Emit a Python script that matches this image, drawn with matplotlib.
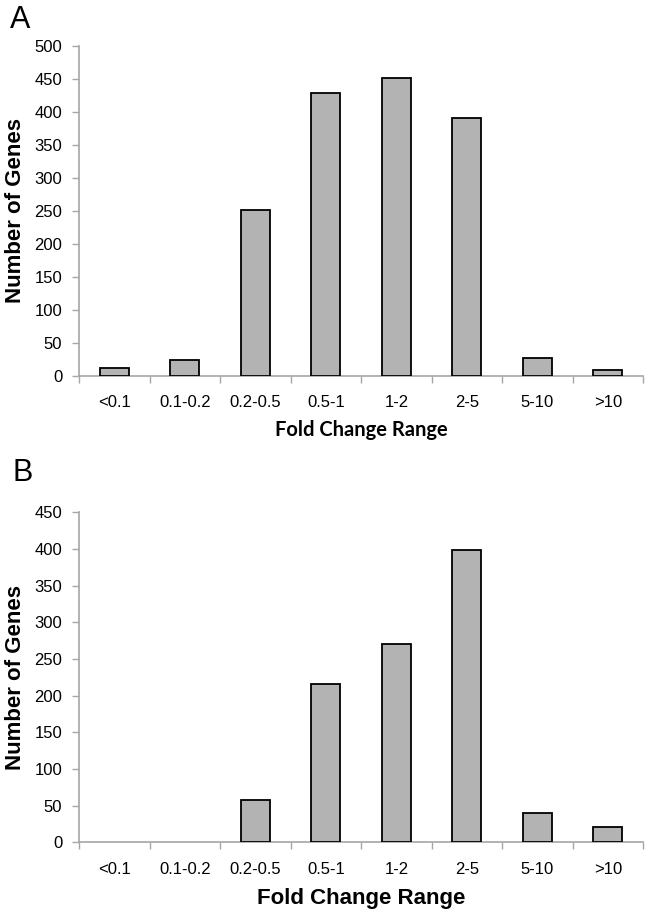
import numpy as np
import matplotlib
matplotlib.use('Agg')
from matplotlib import pyplot as plt

plt.rcParams['font.family'] = ['Liberation Sans', 'DejaVu Sans']

categories = ['<0.1', '0.1-0.2', '0.2-0.5', '0.5-1', '1-2', '2-5', '5-10', '>10']
genes_a = [12, 24, 251, 428, 451, 390, 28, 9]
genes_b = [0, 0, 58, 216, 271, 398, 40, 21]
yticks_a = list(range(0, 501, 50))
yticks_b = list(range(0, 451, 50))

fig = plt.figure(figsize=(6.53, 9.16), dpi=100)

axcol = '#a6a6a6'


def panel(rect, vals, yticks, letter, letter_xy, xlab_font, xlab_size, xlab_y):
    ax = fig.add_axes(rect)
    x = np.arange(len(categories))
    # empty bins get no outline
    lw = [1.3 if v > 0 else 0 for v in vals]
    ax.bar(x, vals, width=0.41, color='#b3b3b3', edgecolor='black', linewidth=lw, zorder=3)
    ax.set_xlim(-0.5, len(categories) - 0.5)
    ax.set_ylim(yticks[0], yticks[-1])
    ax.set_yticks(yticks)
    ax.set_xticks(x)
    ax.set_xticklabels(categories)
    # tick marks between categories
    ax.set_xticks(np.arange(len(categories) + 1) - 0.5, minor=True)
    ax.tick_params(axis='x', which='major', length=0, pad=14, labelsize=12)
    ax.tick_params(axis='x', which='minor', length=5, color=axcol, width=1)
    ax.tick_params(axis='y', length=5, color=axcol, width=1, labelsize=12, pad=7)
    for s in ['top', 'right']:
        ax.spines[s].set_visible(False)
    for s in ['left', 'bottom']:
        ax.spines[s].set_color(axcol)
        ax.spines[s].set_linewidth(1.2)
    ax.set_ylabel('Number of Genes', fontsize=16, fontweight='bold', va='center')
    ax.yaxis.set_label_coords(-0.1117, 0.5)
    ax.set_xlabel('Fold Change Range', fontsize=xlab_size, fontweight='bold',
                  family=xlab_font, va='center')
    ax.xaxis.set_label_coords(0.5, xlab_y)
    fig.text(letter_xy[0], letter_xy[1], letter, fontsize=22, va='center', ha='center')
    return ax


panel([0.121, 0.5895, 0.864, 0.3605], genes_a, yticks_a, 'A', (0.031, 0.978),
      ['Lato', 'DejaVu Sans'], 14.5, -0.163)
panel([0.121, 0.0805, 0.864, 0.3602], genes_b, yticks_b, 'B', (0.035, 0.484),
      ['Liberation Sans', 'DejaVu Sans'], 16, -0.170)

fig.savefig('out.png', dpi=100)
